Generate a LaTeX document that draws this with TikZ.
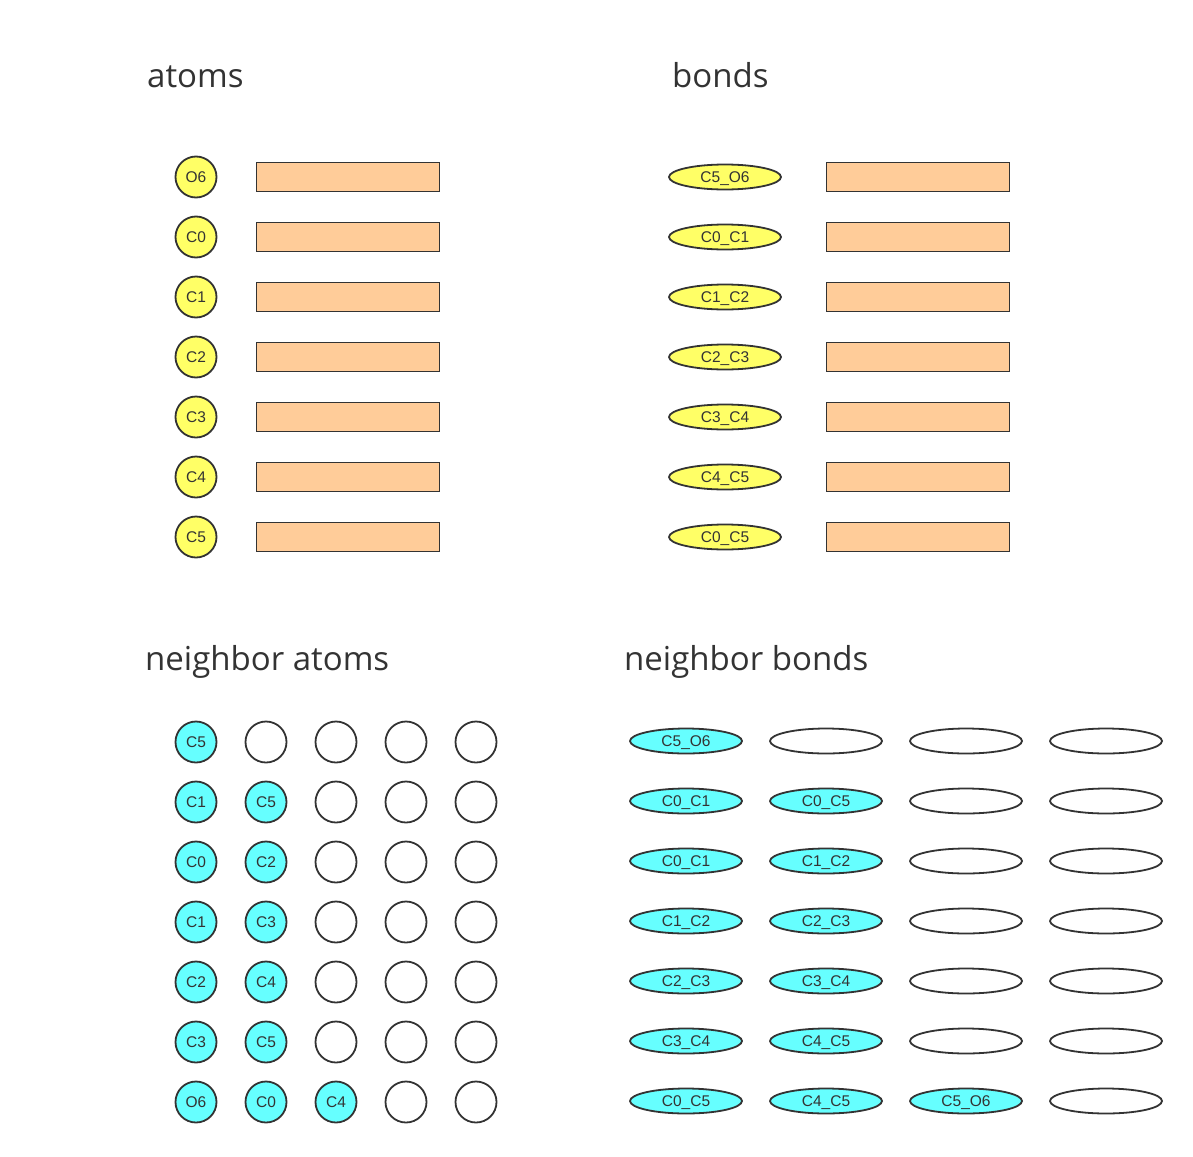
\documentclass[tikz,border=0pt]{standalone}
\usepackage{fontspec}
\setmainfont{Liberation Sans}
\newfontfamily\titlefont{Open Sans}
\usetikzlibrary{shapes.geometric}
\definecolor{atomyellow}{HTML}{FFFF66}
\definecolor{featorange}{HTML}{FFCC99}
\definecolor{nbcyan}{HTML}{66FFFF}
\definecolor{inkgray}{HTML}{333333}

\begin{document}
\begin{tikzpicture}[x=1pt,y=-1pt,
	atom/.style={circle,draw=inkgray,line width=1.8pt,minimum size=41pt,inner sep=0pt,
		text=inkgray,text height=11pt,text depth=0pt,font=\fontsize{15.5}{18}\selectfont},
	bond/.style={ellipse,draw=inkgray,line width=1.8pt,minimum width=112pt,minimum height=25pt,
		inner sep=0pt,text=inkgray,text height=11pt,text depth=0pt,font=\fontsize{15.5}{18}\selectfont},
	feat/.style={rectangle,draw=inkgray,line width=1.8pt,fill=featorange,
		minimum width=183pt,minimum height=29pt},
	title/.style={anchor=base west,inner sep=0pt,text=inkgray,font=\titlefont\fontsize{33}{36}\selectfont}]
\useasboundingbox (0,0) rectangle (1193,1156);

\node[title] (atomstitle) at (147,88) {atoms};
\node[title] (bondstitle) at (672,88) {bonds};
\node[title] (nbatomstitle) at (145,670) {neighbor atoms};
\node[title] (nbbondstitle) at (624,670) {neighbor bonds};

% atoms and their features
\foreach \lab [count=\i] in {O6,C0,C1,C2,C3,C4,C5}{
	\node[atom,fill=atomyellow] (atom\i) at (196,{117+60*\i}) {\lab};
	\node[feat] (atomfeat\i) at (348,{117+60*\i}) {};
}

% bonds and their features
\foreach \lab [count=\i] in {C5\_O6,C0\_C1,C1\_C2,C2\_C3,C3\_C4,C4\_C5,C0\_C5}{
	\node[bond,fill=atomyellow] (bond\i) at (725,{117+60*\i}) {\lab};
	\node[feat] (bondfeat\i) at (918,{117+60*\i}) {};
}

% neighbor atoms, padded with empty slots
\foreach \k/\labs [count=\i] in {1/{C5},2/{C1,C5},2/{C0,C2},2/{C1,C3},2/{C2,C4},2/{C3,C5},3/{O6,C0,C4}}{
	\foreach \lab [count=\j] in \labs
		\node[atom,fill=nbcyan] (nbatom\i-\j) at ({126+70*\j},{682+60*\i}) {\lab};
	\pgfmathtruncatemacro\first{\k+1}
	\foreach \j in {\first,...,5}
		\node[atom] (nbatom\i-\j) at ({126+70*\j},{682+60*\i}) {};
}

% neighbor bonds, padded with empty slots
\foreach \k/\labs [count=\i] in {1/{C5\_O6},2/{C0\_C1,C0\_C5},2/{C0\_C1,C1\_C2},2/{C1\_C2,C2\_C3},
		2/{C2\_C3,C3\_C4},2/{C3\_C4,C4\_C5},3/{C0\_C5,C4\_C5,C5\_O6}}{
	\foreach \lab [count=\j] in \labs
		\node[bond,fill=nbcyan] (nbbond\i-\j) at ({546+140*\j},{681+60*\i}) {\lab};
	\pgfmathtruncatemacro\first{\k+1}
	\foreach \j in {\first,...,4}
		\node[bond] (nbbond\i-\j) at ({546+140*\j},{681+60*\i}) {};
}
\end{tikzpicture}
\end{document}
